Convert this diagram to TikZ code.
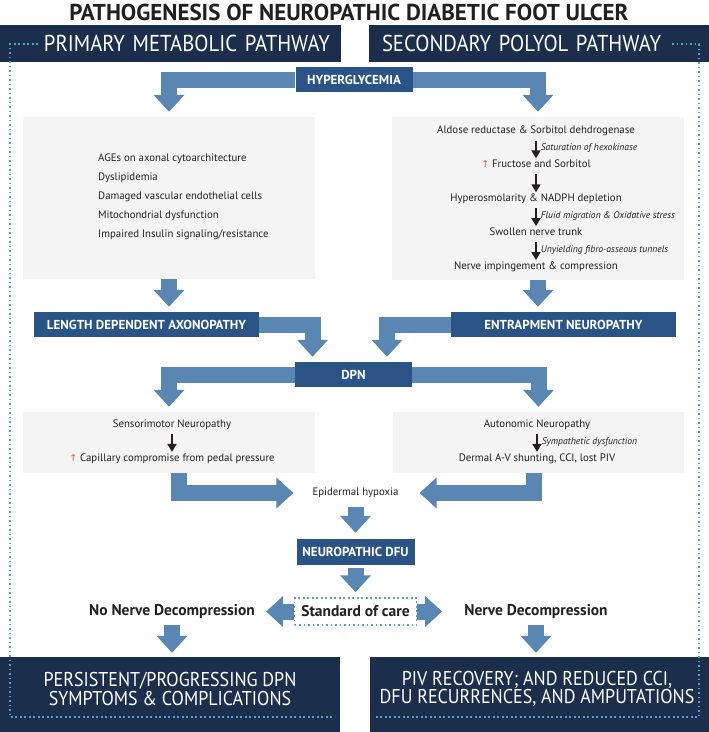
\documentclass[tikz,border=0pt]{standalone}
\usepackage{fontspec}
\setmainfont{PT Sans}
\newfontfamily\headfont[FakeStretch=0.9]{PT Sans}
\newfontfamily\symfont{DejaVu Sans}
\usetikzlibrary{arrows.meta}
\usetikzlibrary{calc}
\usetikzlibrary{positioning}

\definecolor{navy}{HTML}{1B2F4D}
\definecolor{midblue}{HTML}{2A5386}
\definecolor{bandblue}{HTML}{5A86B4}
\definecolor{boxgray}{HTML}{F4F4F4}
\definecolor{dotblue}{HTML}{4EA2D8}
\definecolor{upred}{HTML}{D8603A}
\definecolor{ink}{HTML}{231F20}

\tikzset{
  headbar/.style={fill=navy, text=white, minimum height=37pt, inner sep=0pt, font=\headfont\fontsize{23}{23}\selectfont},
  endtxt/.style={text=white, align=center, inner sep=0pt, font=\headfont\fontsize{20}{18.5}\selectfont},
  stage/.style={fill=midblue, text=white, minimum height=25pt, inner sep=0pt, font=\bfseries\fontsize{13}{13}\selectfont},
  graybox/.style={fill=boxgray, inner sep=0pt},
  txt/.style={text=ink, inner sep=1pt, text height=8pt, text depth=2.7pt, font=\fontsize{10.8}{19}\selectfont},
  note/.style={text=ink, inner sep=1pt, font=\itshape\fontsize{9.6}{9.6}\selectfont},
  choice/.style={text=ink, inner sep=1pt, font=\bfseries\fontsize{15.5}{15.5}\selectfont},
  band/.style={draw=bandblue, line width=16pt, line join=miter, -{Triangle[width=30pt,length=17pt]}},
  smallarrow/.style={draw=ink, line width=1.7pt, -{Triangle[width=9pt,length=8pt]}},
  dotframe/.style={draw=dotblue, line width=1.8pt, dash pattern=on 1.8pt off 2.7pt},
}

\begin{document}
\begin{tikzpicture}[x=1pt, y=-1pt]
    \useasboundingbox (0,0) rectangle (709,732);
    \node[text=ink, inner sep=0pt, font=\bfseries\fontsize{23}{23}\selectfont] (title) at (349,12) {PATHOGENESIS OF NEUROPATHIC DIABETIC FOOT ULCER};
    \node[headbar, minimum width=341pt, text width=319pt, align=right] (primary) at (170.5,43.5) {PRIMARY METABOLIC PATHWAY};
    \node[headbar, minimum width=340pt, text width=314pt, align=left] (secondary) at (539,43.5) {SECONDARY POLYOL PATHWAY};
    \node[stage, minimum width=117pt] (hyper) at (354,79.5) {HYPERGLYCEMIA};

    \node[graybox, minimum width=292pt, minimum height=162pt] (metab) at (169,198) {};
    \node[graybox, minimum width=292pt, minimum height=163pt] (polyol) at (538,198.5) {};

    \node[txt, align=left, text height=, text depth=, anchor=west] (ages) at (97,197) {AGEs on axonal cytoarchitecture\\Dyslipidemia\\Damaged vascular endothelial cells\\Mitochondrial dysfunction\\Impaired Insulin signaling/resistance};

    \node[txt] (aldose) at (536,131) {Aldose reductase \& Sorbitol dehdrogenase};
    \node[txt, below=20.8pt of aldose] (fructose) {{\symfont\color{upred}\fontsize{9.5}{9.5}\selectfont ↑} Fructose and Sorbitol};
    \node[txt, below=20.8pt of fructose] (osmol) {Hyperosmolarity \& NADPH depletion};
    \node[txt, below=20.8pt of osmol] (swollen) {Swollen nerve trunk};
    \node[txt, below=20.8pt of swollen] (imping) {Nerve impingement \& compression};

    \path (aldose) edge[smallarrow, shorten <=3pt] node[note, right=3pt] {Saturation of hexokinase} (fructose);
    \path (fructose) edge[smallarrow, shorten <=3pt] (osmol);
    \path (osmol) edge[smallarrow, shorten <=3pt] node[note, right=3pt] {Fluid migration \& Oxidative stress} (swollen);
    \path (swollen) edge[smallarrow, shorten <=3pt] node[note, right=3pt] {Unyielding fibro-osseous tunnels} (imping);

    \draw[band, shorten >=5pt] (hyper.west) -| (metab.north);
    \draw[band, shorten >=5pt] (hyper.east) -| (polyol.north);

    \node[stage, minimum width=225pt] (lda) at (146.5,324.5) {LENGTH DEPENDENT AXONOPATHY};
    \node[stage, minimum width=225pt] (entrap) at (563.5,324.5) {ENTRAPMENT NEUROPATHY};
    \node[stage, minimum width=117pt] (dpn) at (353.5,374.5) {DPN};

    \draw[band, shorten >=5pt] (metab.south) -- (metab.south |- lda.north);
    \draw[band, shorten >=5pt] (polyol.south) -- (polyol.south |- entrap.north);
    \draw[band, shorten >=5pt] (lda.east) -| ([xshift=-41pt]dpn.north);
    \draw[band, shorten >=5pt] (entrap.west) -| ([xshift=33.5pt]dpn.north);

    \node[graybox, minimum width=292pt, minimum height=61pt] (sensbox) at (169,442.5) {};
    \node[graybox, minimum width=291pt, minimum height=61pt] (autobox) at (538.5,442.5) {};
    \draw[band, shorten >=5pt] (dpn.west) -| (sensbox.north);
    \draw[band, shorten >=5pt] (dpn.east) -| (autobox.north);

    \node[txt] (sensory) at (172,425) {Sensorimotor Neuropathy};
    \node[txt, below=20.3pt of sensory] (capillary) {{\symfont\color{upred}\fontsize{9.5}{9.5}\selectfont ↑} Capillary compromise from pedal pressure};
    \node[txt] (autonomic) at (537,425) {Autonomic Neuropathy};
    \node[txt, below=20.3pt of autonomic] (dermal) {Dermal A-V shunting, CCI, lost PIV};
    \path (sensory) edge[smallarrow, shorten <=2pt] (capillary);
    \path (autonomic) edge[smallarrow, shorten <=2pt] node[note, right=3pt] {Sympathetic dysfunction} (dermal);

    \node[txt] (hypoxia) at (355.5,493) {Epidermal hypoxia};
    \draw[band, shorten >=18pt] ([xshift=10pt]sensbox.south) |- (hypoxia.west);
    \draw[band, shorten >=20pt] ([xshift=-5pt]autobox.south) |- (hypoxia.east);

    \node[stage, minimum width=118pt, minimum height=26pt] (dfu) at (355.5,552) {NEUROPATHIC DFU};
    \draw[band, shorten <=7pt, shorten >=6pt] (hypoxia.south) -- (dfu.north);

    % standard of care splits both ways
    \node[choice, dotframe, line width=1.5pt, fill=white, minimum width=122pt, minimum height=27pt] (care) at (355.5,611.5) {Standard of care};
    \draw[band, shorten <=3pt, shorten >=5pt] (dfu.south) -- (care.north);
    \node[choice] (nodecomp) at (172,612) {No Nerve Decompression};
    \node[choice] (decomp) at (536,612) {Nerve Decompression};
    \draw[band, shorten >=10pt] (care.west) -- (care.west -| nodecomp.east);
    \draw[band, shorten >=21pt] (care.east) -- (care.east -| decomp.west);

    \node[fill=navy, inner sep=0pt, minimum width=340pt, minimum height=75pt] (leftend) at (170,694.5) {};
    \node[fill=navy, inner sep=0pt, minimum width=339pt, minimum height=75pt] (rightend) at (539.5,694.5) {};
    \node[endtxt] (persist) at (170,689) {PERSISTENT/PROGRESSING DPN\\SYMPTOMS \& COMPLICATIONS};
    \node[endtxt] (recovery) at (537,689) {PIV RECOVERY; AND REDUCED CCI,\\DFU RECURRENCES, AND AMPUTATIONS};
    \draw[band, shorten <=5pt, shorten >=4pt] (nodecomp.south) -- (nodecomp.south |- leftend.north);
    \draw[band, shorten <=5pt, shorten >=4pt] (decomp.south) -- (decomp.south |- rightend.north);

    \draw[dotframe] (38,44) -- (10,44) -- (10,717) -- (335,717);
    \draw[dotframe] (672,44) -- (699,44) -- (699,717) -- (375,717);
\end{tikzpicture}
\end{document}
